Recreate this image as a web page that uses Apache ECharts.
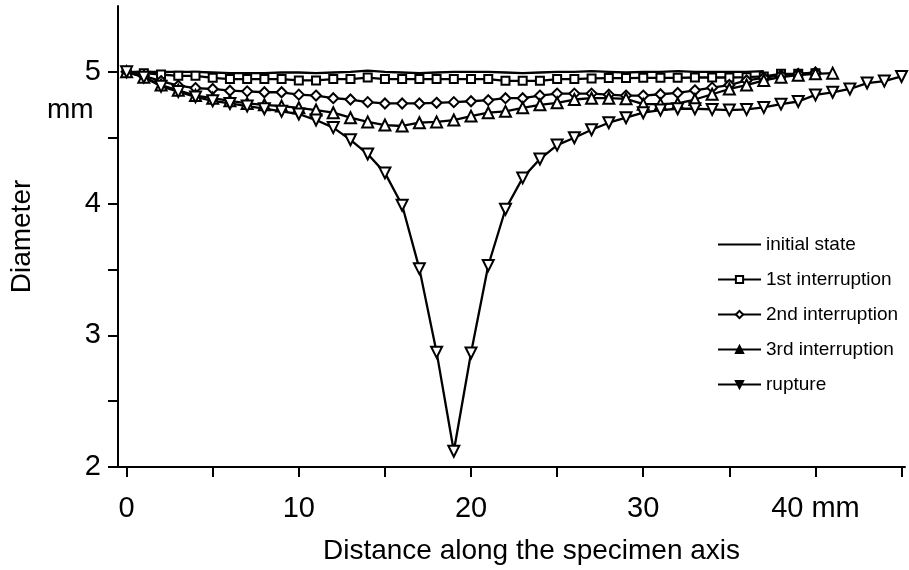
<!doctype html>
<html>
<head>
    <meta charset="utf-8">
    <title>diameter-profile</title>
    <script src="https://cdn.jsdelivr.net/npm/echarts@6/dist/echarts.min.js"></script>
    <style>
        html,body{margin:0;padding:0;background:#fff;}
        #chart{width:909px;height:570px;}
    </style>
</head>
<body>
    <div id="chart"></div>
    <script>
        // diameter (mm) measured every 1 mm along the specimen axis, first value at x = 0
        var seriesNames = ['initial state', '1st interruption', '2nd interruption', '3rd interruption', 'rupture'];
        var initialState = [5.0, 5.0, 5.0, 5.0, 5.0, 4.995, 4.99, 4.99, 4.99, 4.995, 4.995, 4.99, 4.995, 5.0, 5.01,
            5.0, 4.995, 4.99, 4.995, 5.0, 5.0, 5.0, 4.995, 4.99, 4.995, 5.0, 5.0, 5.005, 5.0, 4.995,
            5.0, 5.0, 5.005, 5.0, 5.0, 5.0, 5.0, 5.005];
        var firstStop = [5.0, 4.99, 4.98, 4.97, 4.97, 4.955, 4.945, 4.945, 4.945, 4.945, 4.935, 4.935, 4.945, 4.945, 4.957,
            4.945, 4.945, 4.945, 4.945, 4.945, 4.945, 4.945, 4.932, 4.932, 4.932, 4.945, 4.945, 4.95, 4.953, 4.953,
            4.955, 4.955, 4.955, 4.957, 4.957, 4.957, 4.96, 4.965, 4.985, 4.985, 4.99];
        var secondStop = [5.0, 4.97, 4.93, 4.895, 4.877, 4.87, 4.857, 4.852, 4.845, 4.845, 4.827, 4.82, 4.80, 4.79, 4.77,
            4.76, 4.76, 4.76, 4.765, 4.77, 4.777, 4.785, 4.80, 4.80, 4.82, 4.835, 4.835, 4.835, 4.827, 4.82,
            4.82, 4.83, 4.84, 4.86, 4.88, 4.90, 4.935, 4.955, 4.975, 4.985, 4.995];
        var thirdStop = [5.0, 4.96, 4.90, 4.86, 4.82, 4.80, 4.78, 4.76, 4.75, 4.74, 4.727, 4.71, 4.69, 4.652, 4.62,
            4.596, 4.589, 4.614, 4.62, 4.634, 4.664, 4.69, 4.70, 4.727, 4.75, 4.765, 4.79, 4.80, 4.80, 4.795,
            4.755, 4.755, 4.76, 4.79, 4.83, 4.87, 4.90, 4.935, 4.96, 4.975, 4.985, 4.99];
        var rupture = [5.0, 4.96, 4.89, 4.85, 4.81, 4.78, 4.76, 4.74, 4.72, 4.70, 4.68, 4.634, 4.577, 4.484, 4.376,
            4.233, 3.987, 3.506, 2.872, 2.12, 2.865, 3.53, 3.957, 4.195, 4.338, 4.444, 4.50, 4.56, 4.614, 4.652,
            4.69, 4.71, 4.72, 4.72, 4.715, 4.71, 4.715, 4.73, 4.755, 4.775, 4.825, 4.845, 4.87, 4.915, 4.93, 4.965];
        var xTicks = [0, 5, 10, 15, 20, 25, 30, 35, 40, 45];
        var xLabels = [0, 10, 20, 30, 40];

        var view = {
            initialize: function () {
                this.chart = echarts.init(document.getElementById('chart'), null, {renderer: 'canvas'});
                this.render();
            },
            _points: function (arr) {
                var out = [];
                for (var i = 0; i < arr.length; i++) {
                    out.push([i, arr[i]]);
                }
                return out;
            },
            _series: function (name, arr, symbol, size, rotate) {
                return {
                    name: name,
                    type: 'line',
                    data: this._points(arr),
                    symbol: symbol,
                    symbolSize: size,
                    symbolRotate: rotate || 0,
                    showAllSymbol: true,
                    lineStyle: {color: '#000', width: 2.3},
                    itemStyle: {color: '#fff', borderColor: '#000', borderWidth: 2}
                };
            },
            render: function () {
                var font = '"Liberation Sans", Arial, sans-serif';
                var legendData = [{
                    name: seriesNames[0],
                    itemStyle: {color: 'rgba(0,0,0,0)', borderColor: 'rgba(0,0,0,0)', borderWidth: 0}
                }];
                for (var i = 1; i < seriesNames.length; i++) {
                    legendData.push({name: seriesNames[i], itemStyle: {color: i > 2 ? '#000' : '#fff', borderWidth: 2}});
                }
                var option = {
                    animation: false,
                    backgroundColor: '#fff',
                    textStyle: {fontFamily: font, color: '#000'},
                    grid: {left: 118, right: 4, top: 6, bottom: 100, containLabel: false},
                    legend: {
                        orient: 'vertical',
                        left: 717,
                        top: 235,
                        itemWidth: 43,
                        itemHeight: 9,
                        itemGap: 16,
                        padding: 0,
                        textStyle: {fontSize: 19, color: '#000', fontFamily: font},
                        data: legendData
                    },
                    xAxis: {
                        type: 'value',
                        min: -0.5,
                        max: 45.2,
                        name: 'Distance along the specimen axis',
                        nameLocation: 'middle',
                        nameGap: 70,
                        nameTextStyle: {fontSize: 28, color: '#000', padding: [0, 0, 0, 40]},
                        axisLine: {onZero: false, lineStyle: {color: '#000', width: 2}},
                        axisTick: {length: 10, lineStyle: {color: '#000', width: 2}, customValues: xTicks},
                        axisLabel: {
                            fontSize: 29, color: '#000', margin: 27,
                            customValues: xLabels,
                            formatter: function (v) { return v === 40 ? '40 mm' : String(v); }
                        },
                        splitLine: {show: false}
                    },
                    yAxis: {
                        type: 'value',
                        min: 2,
                        max: 5.5,
                        interval: 0.5,
                        name: 'Diameter',
                        nameLocation: 'middle',
                        nameGap: 82,
                        nameTextStyle: {fontSize: 28, color: '#000'},
                        axisLine: {show: true, onZero: false, lineStyle: {color: '#000', width: 2}},
                        axisTick: {show: true, length: 10, lineStyle: {color: '#000', width: 2}},
                        axisLabel: {
                            fontSize: 29, color: '#000', margin: 17,
                            showMaxLabel: false,
                            formatter: function (v) { return v % 1 === 0 ? String(v) : ''; }
                        },
                        splitLine: {show: false}
                    },
                    graphic: [{
                        type: 'text',
                        left: 47,
                        top: 96,
                        style: {text: 'mm', font: '28px ' + font, fill: '#000'}
                    }],
                    series: [
                        this._series(seriesNames[0], initialState, 'none', 0),
                        this._series(seriesNames[1], firstStop, 'rect', 8),
                        this._series(seriesNames[2], secondStop, 'diamond', 10),
                        this._series(seriesNames[3], thirdStop, 'triangle', 11),
                        this._series(seriesNames[4], rupture, 'triangle', 11, 180)
                    ]
                };
                this.chart.setOption(option);
            }
        };

        window.addEventListener('load', function () {
            view.initialize();
        }, false);
    </script>
</body>
</html>
